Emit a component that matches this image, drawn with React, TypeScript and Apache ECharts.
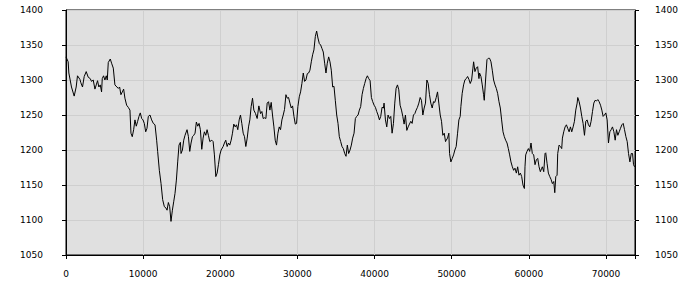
import React, { useEffect, useRef } from "react";
import * as echarts from "echarts";

const sampleX = [
  0, 280, 370, 710, 1060, 1320, 1490, 1800, 1930, 2140, 2360, 2620, 2880, 3140, 3310, 3530, 3750, 3920, 4090, 4260,
  4440, 4610, 4700, 4870, 5040, 5220, 5350, 5480, 5740, 5910, 6130, 6340, 6600, 6780, 6950, 7120, 7300, 7470, 7640, 7860,
  8070, 8290, 8420, 8590, 8770, 8940, 9110, 9290, 9460, 9630, 9810, 9980, 10150, 10330, 10500, 10670, 10890, 11100, 11320, 11540,
  11750, 11880, 12100, 12320, 12530, 12750, 12970, 13100, 13270, 13440, 13610, 13790, 13960, 14130, 14310, 14480, 14650, 14830, 14910, 15090,
  15260, 15430, 15690, 15870, 16040, 16210, 16390, 16560, 16730, 16900, 17080, 17250, 17420, 17600, 17770, 17940, 18120, 18290, 18460, 18640,
  18900, 19070, 19240, 19420, 19590, 19760, 19940, 20110, 20370, 20540, 20710, 20890, 21060, 21230, 21410, 21580, 21750, 21930, 22100, 22270,
  22450, 22620, 22790, 22970, 23140, 23310, 23490, 23660, 23830, 24000, 24180, 24350, 24570, 24780, 25000, 25220, 25390, 25560, 25740, 25910,
  26080, 26260, 26430, 26600, 26770, 26950, 27120, 27290, 27470, 27640, 27810, 27990, 28160, 28330, 28510, 28680, 28850, 29030, 29200, 29370,
  29550, 29720, 29890, 30060, 30240, 30410, 30580, 30760, 30930, 31100, 31280, 31450, 31620, 31800, 31970, 32140, 32320, 32490, 32660, 32840,
  33010, 33180, 33350, 33530, 33700, 33870, 34050, 34220, 34390, 34570, 34740, 34910, 35090, 35260, 35430, 35610, 35780, 35950, 36130, 36300,
  36470, 36640, 36820, 36990, 37160, 37340, 37510, 37680, 37860, 38030, 38200, 38380, 38550, 38720, 38900, 39070, 39240, 39420, 39590, 39760,
  39940, 40110, 40280, 40450, 40630, 40800, 40970, 41150, 41230, 41410, 41580, 41750, 41930, 42100, 42270, 42450, 42620, 42790, 42970, 43140,
  43310, 43490, 43660, 43830, 44000, 44180, 44350, 44520, 44700, 44870, 45040, 45220, 45390, 45560, 45740, 45910, 46080, 46260, 46430, 46600,
  46780, 46950, 47120, 47290, 47470, 47640, 47810, 47990, 48160, 48330, 48510, 48680, 48850, 49030, 49200, 49290, 49460, 49630, 49720, 49890,
  50070, 50240, 50410, 50580, 50760, 50930, 51100, 51190, 51360, 51540, 51710, 51880, 52060, 52230, 52400, 52580, 52750, 52840, 53010, 53180,
  53360, 53530, 53610, 53790, 53960, 54130, 54220, 54390, 54570, 54740, 54910, 55090, 55260, 55430, 55610, 55780, 55950, 56130, 56300, 56470,
  56650, 56820, 56990, 57170, 57340, 57510, 57680, 57860, 58030, 58200, 58380, 58550, 58720, 58900, 59070, 59240, 59420, 59500, 59590, 59760,
  59940, 60110, 60280, 60450, 60630, 60800, 60970, 61150, 61320, 61490, 61670, 61750, 61930, 62100, 62190, 62360, 62530, 62710, 62880, 63050,
  63230, 63360, 63490, 63660, 63740, 63920, 64090, 64260, 64350, 64520, 64700, 64870, 65040, 65220, 65390, 65560, 65740, 65910, 66080, 66260,
  66340, 66520, 66690, 66860, 67030, 67210, 67380, 67550, 67730, 67900, 68070, 68250, 68420, 68590, 68770, 68940, 69110, 69290, 69460, 69630,
  69800, 69980, 70150, 70320, 70500, 70670, 70840, 71020, 71190, 71360, 71540, 71710, 71880, 72060, 72230, 72400, 72580, 72750, 72920, 73100,
  73270, 73440, 73570, 73700,
];

// values read at those positions
const price = [
  1333, 1326, 1310, 1290, 1277, 1290, 1306, 1301, 1296, 1290, 1305, 1312, 1304, 1302, 1298, 1300, 1287, 1293, 1299, 1290,
  1293, 1283, 1302, 1306, 1300, 1306, 1300, 1325, 1330, 1324, 1317, 1293, 1290, 1288, 1290, 1279, 1283, 1287, 1274, 1264,
  1261, 1257, 1224, 1219, 1229, 1243, 1234, 1241, 1248, 1253, 1245, 1243, 1238, 1226, 1231, 1248, 1250, 1243, 1238, 1236,
  1214, 1198, 1171, 1152, 1129, 1119, 1117, 1114, 1125, 1119, 1098, 1114, 1126, 1138, 1157, 1183, 1207, 1211, 1195, 1200,
  1214, 1221, 1229, 1219, 1198, 1210, 1219, 1221, 1224, 1240, 1234, 1238, 1229, 1201, 1217, 1226, 1221, 1229, 1221, 1212,
  1214, 1212, 1193, 1162, 1167, 1179, 1193, 1200, 1205, 1210, 1214, 1205, 1210, 1207, 1214, 1224, 1237, 1233, 1236, 1229,
  1243, 1250, 1238, 1224, 1219, 1205, 1217, 1233, 1243, 1262, 1274, 1257, 1252, 1245, 1263, 1252, 1255, 1245, 1246, 1245,
  1267, 1269, 1257, 1268, 1250, 1233, 1214, 1207, 1224, 1233, 1229, 1243, 1250, 1258, 1279, 1274, 1275, 1267, 1260, 1263,
  1248, 1237, 1238, 1262, 1276, 1283, 1295, 1310, 1298, 1300, 1309, 1310, 1314, 1326, 1336, 1343, 1362, 1370, 1360, 1352,
  1350, 1345, 1340, 1324, 1310, 1324, 1333, 1326, 1314, 1290, 1291, 1271, 1250, 1238, 1219, 1212, 1205, 1202, 1195, 1191,
  1207, 1195, 1200, 1207, 1217, 1224, 1245, 1248, 1250, 1257, 1262, 1279, 1288, 1295, 1302, 1306, 1302, 1299, 1275, 1269,
  1264, 1261, 1255, 1250, 1243, 1248, 1261, 1260, 1267, 1243, 1233, 1250, 1245, 1248, 1224, 1238, 1267, 1288, 1293, 1286,
  1264, 1257, 1248, 1237, 1250, 1228, 1233, 1237, 1241, 1238, 1250, 1252, 1257, 1261, 1267, 1275, 1271, 1250, 1260, 1267,
  1300, 1295, 1279, 1267, 1260, 1269, 1268, 1275, 1283, 1267, 1250, 1241, 1221, 1224, 1212, 1214, 1217, 1224, 1195, 1183,
  1188, 1193, 1200, 1205, 1224, 1243, 1248, 1262, 1281, 1293, 1300, 1302, 1305, 1301, 1295, 1300, 1317, 1326, 1312, 1317,
  1319, 1302, 1310, 1305, 1293, 1279, 1271, 1300, 1329, 1331, 1331, 1326, 1314, 1300, 1293, 1288, 1281, 1269, 1260, 1243,
  1226, 1219, 1214, 1210, 1202, 1193, 1183, 1176, 1171, 1174, 1167, 1176, 1164, 1167, 1162, 1150, 1145, 1176, 1193, 1198,
  1202, 1198, 1210, 1195, 1193, 1179, 1186, 1188, 1176, 1169, 1174, 1176, 1169, 1195, 1196, 1181, 1167, 1162, 1158, 1152,
  1155, 1139, 1162, 1164, 1195, 1207, 1205, 1202, 1217, 1226, 1233, 1236, 1231, 1226, 1233, 1226, 1233, 1241, 1257, 1267,
  1275, 1269, 1260, 1248, 1238, 1221, 1241, 1243, 1236, 1233, 1241, 1255, 1267, 1271, 1270, 1272, 1269, 1264, 1257, 1248,
  1250, 1253, 1243, 1210, 1226, 1229, 1233, 1226, 1214, 1229, 1221, 1226, 1231, 1236, 1238, 1229, 1219, 1212, 1195, 1183,
  1195, 1195, 1179, 1176,
];

const xMin = 0;
const xMax = 73760;
const xStep = 10000;
const yMin = 1050;
const yMax = 1400;
const yStep = 50;

const FONT = "DejaVu Sans";
const GRID_COLOR = "#cfcfcf";

export default function App() {
  const ref = useRef<HTMLDivElement>(null);

  useEffect(() => {
    if (!ref.current) return;
    const chart = echarts.init(ref.current, undefined, { renderer: "svg" });
    const yAxisBase = {
      type: "value" as const,
      min: yMin,
      max: yMax,
      interval: yStep,
      axisLine: { show: true, lineStyle: { color: "#000", width: 1 } },
      axisTick: { show: true, inside: false, length: 4, lineStyle: { color: "#000" } },
    };
    const plain = (v: number) => String(v);
    chart.setOption({
      animation: false,
      backgroundColor: "#ffffff",
      textStyle: { fontFamily: FONT },
      grid: {
        left: 66,
        right: 65,
        top: 10,
        bottom: 45,
        show: true,
        backgroundColor: "#e0e0e0",
        borderColor: "#000",
        borderWidth: 1,
      },
      xAxis: {
        type: "value",
        min: xMin,
        max: xMax,
        interval: xStep,
        axisLine: { show: true, onZero: false, lineStyle: { color: "#000", width: 1 } },
        axisTick: { show: true, length: 4, lineStyle: { color: "#000" } },
        axisLabel: {
          margin: 14,
          fontSize: 9,
          fontFamily: FONT,
          color: "#000",
          formatter: (v: number) => (v % xStep === 0 ? String(v) : ""),
        },
        splitLine: { show: true, lineStyle: { color: GRID_COLOR, width: 1 } },
      },
      yAxis: [
        {
          ...yAxisBase,
          position: "left",
          axisLabel: { margin: 23, fontSize: 9, fontFamily: FONT, color: "#000", formatter: plain },
          splitLine: { show: true, lineStyle: { color: GRID_COLOR, width: 1 } },
        },
        {
          ...yAxisBase,
          position: "right",
          axisLabel: { margin: 20, fontSize: 9, fontFamily: FONT, color: "#000", formatter: plain },
          splitLine: { show: false },
        },
      ],
      series: [
        {
          type: "line",
          yAxisIndex: 0,
          data: sampleX.map((x, i) => [x, price[i]]),
          symbol: "none",
          showSymbol: false,
          lineStyle: { color: "#000", width: 1 },
          silent: true,
        },
      ],
    });
    return () => chart.dispose();
  }, []);

  return (
    <div
      ref={ref}
      style={{ position: "fixed", left: 0, top: 0, width: 700, height: 300, background: "#fff" }}
    />
  );
}
